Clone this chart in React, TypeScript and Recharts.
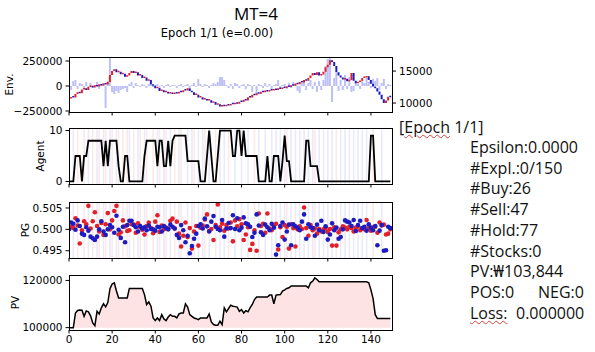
import React from 'react'
import {
  ComposedChart, ScatterChart,
  Bar, Line, Area, Scatter, Cell,
  XAxis, YAxis, ReferenceLine,
} from 'recharts'

// ─── Data ────────────────────────────────────────────────────────

const steps = Array.from({ length: 150 }, (_, i) => i)
const xTicks = [0, 20, 40, 60, 80, 100, 120, 140]

// price (right axis of the Env. panel)
const prices = [
  10700, 10950, 10850, 11400, 11700, 11550, 12100, 12300, 12050, 12500,
  12700, 12450, 12800, 12600, 12950, 12750, 13050, 12900, 13300, 14400,
  15000, 15300, 14800, 14900, 14500, 14600, 14100, 14300, 14700, 15000,
  14700, 14800, 14300, 14400, 13900, 14000, 13500, 13600, 12900, 12700,
  12300, 12400, 11900, 12000, 11700, 11750, 11500, 11600, 11400, 11550,
  11500, 11750, 11700, 12000, 11950, 12300, 11900, 11700, 11250, 11300,
  10850, 10900, 10550, 10600, 10400, 10450, 10050, 10150, 9750, 9800,
  9450, 9600, 9500, 9750, 9600, 9850, 9800, 9950, 9900, 10200,
  10150, 10500, 10400, 10900, 10850, 11300, 11200, 11550, 11450, 11750,
  11700, 11950, 11800, 12050, 11950, 12200, 12050, 12300, 12200, 12450,
  12350, 12600, 12500, 12800, 12700, 13050, 12950, 13300, 13200, 13600,
  13500, 13900, 14300, 14700, 14400, 14800, 14300, 14450, 14900, 15600,
  16000, 16700, 16400, 15800, 14800, 14300, 14000, 13700, 13800, 13400,
  13600, 14700, 13500, 13100, 13300, 13500, 13900, 14000, 14200, 13600,
  13000, 12600, 12300, 11800, 11300, 10600, 10000, 10400, 11000, 10900,
]

// volume change (left axis of the Env. panel)
const volumes = [
  20000, -40000, 50000, 60000, -30000, 30000, 20000, -20000, 40000, -10000,
  30000, -20000, 10000, 40000, -30000, 20000, 30000, -220000, 50000, 280000,
  -60000, -80000, -50000, -70000, -40000, -30000, -20000, -60000, 20000, 40000,
  -20000, 30000, 10000, -10000, 20000, 10000, -20000, 20000, 10000, -10000,
  10000, 20000, -10000, 10000, -20000, 10000, 20000, -10000, 10000, 10000,
  -20000, 10000, 20000, -10000, 10000, 20000, -20000, 10000, 30000, -10000,
  70000, 20000, -10000, 20000, 10000, -20000, 10000, 30000, 20000, 40000,
  90000, 90000, 60000, 10000, -20000, 20000, -30000, 30000, 20000, -20000,
  10000, 20000, -30000, 20000, 10000, -60000, 10000, -90000, 20000, 10000,
  -20000, 30000, -10000, 20000, -30000, 10000, 20000, 60000, -20000, 10000,
  20000, -30000, 30000, -20000, 40000, 20000, -50000, -70000, 30000, 50000,
  -40000, 30000, 60000, -30000, 40000, -60000, 50000, -40000, 60000, 200000,
  270000, 280000, -160000, 80000, 130000, -50000, 60000, -40000, 110000, -30000,
  90000, -60000, -50000, 40000, 20000, -30000, 60000, 30000, 80000, 40000,
  -20000, 70000, 50000, 80000, -40000, 30000, 70000, -30000, 20000, 10000,
]

// agent holdings
const agent = [
  0, 0, 0, 5, 5, 5, 0, 5, 5, 8,
  8, 8, 8, 8, 8, 8, 3, 8, 3, 8,
  8, 8, 8, 3, 0, 0, 5, 5, 0, 0,
  0, 0, 0, 0, 0, 5, 8, 8, 8, 8,
  8, 3, 8, 8, 3, 3, 8, 3, 8, 9,
  9, 9, 9, 9, 9, 4, 4, 4, 4, 4,
  4, 0, 0, 0, 5, 10, 5, 0, 0, 5,
  10, 10, 10, 10, 10, 10, 5, 5, 10, 10,
  5, 10, 5, 5, 5, 5, 5, 5, 0, 0,
  0, 0, 5, 0, 0, 5, 5, 5, 0, 4,
  9, 4, 4, 0, 0, 0, 0, 0, 0, 0,
  8, 8, 3, 3, 3, 3, 0, 0, 0, 0,
  0, 0, 0, 0, 0, 0, 0, 0, 0, 0,
  0, 0, 0, 0, 0, 0, 0, 0, 0, 0,
  9, 9, 0, 0, 0, 0, 0, 0, 0, 0,
]

// policy gradient outputs
const pgRed = [
  0.5004, 0.5006, 0.5003, 0.5026, 0.5009, 0.4967, 0.4998, 0.5019, 0.5012, 0.5055,
  0.5002, 0.5019, 0.5040, 0.5008, 0.4995, 0.5015, 0.4987, 0.5012, 0.5038, 0.5000,
  0.5021, 0.5043, 0.5055, 0.4988, 0.4993, 0.5021, 0.5007, 0.4996, 0.4998, 0.5012,
  0.5011, 0.4992, 0.5014, 0.5005, 0.4999, 0.4988, 0.5008, 0.5016, 0.5003, 0.4991,
  0.5018, 0.5033, 0.4994, 0.5009, 0.5000, 0.5004, 0.5002, 0.5020, 0.5025, 0.5002,
  0.5018, 0.4990, 0.4960, 0.4985, 0.5016, 0.4982, 0.5003, 0.4955, 0.4995, 0.5008,
  0.4962, 0.5004, 0.5009, 0.5023, 0.5035, 0.4996, 0.5001, 0.4975, 0.5010, 0.5058,
  0.5005, 0.5013, 0.4997, 0.5010, 0.5002, 0.5016, 0.4972, 0.5021, 0.5007, 0.5024,
  0.5012, 0.4975, 0.4988, 0.5005, 0.4952, 0.4966, 0.4998, 0.4950, 0.5037, 0.5008,
  0.5013, 0.4992, 0.5037, 0.5002, 0.4998, 0.5008, 0.5013, 0.4953, 0.5005, 0.4982,
  0.5010, 0.5006, 0.4955, 0.5012, 0.5003, 0.4960, 0.5000, 0.5007, 0.5001, 0.5051,
  0.5003, 0.4985, 0.5010, 0.4998, 0.5002, 0.4990, 0.5001, 0.4995, 0.5000, 0.5003,
  0.4994, 0.5001, 0.4962, 0.5005, 0.4962, 0.4993, 0.5000, 0.5007, 0.5004, 0.5000,
  0.5006, 0.5003, 0.4995, 0.5004, 0.5007, 0.4998, 0.5003, 0.5000, 0.5022, 0.5003,
  0.4997, 0.5004, 0.5006, 0.4992, 0.5016, 0.5009, 0.5011, 0.4988, 0.4990, 0.5000,
]

const pgBlue = [
  0.5000, 0.5016, 0.5013, 0.4999, 0.5021, 0.5008, 0.4990, 0.4987, 0.5005, 0.4997,
  0.4983, 0.4979, 0.4975, 0.4983, 0.5000, 0.5019, 0.4995, 0.4987, 0.5000, 0.5010,
  0.5005, 0.4992, 0.5032, 0.4999, 0.4980, 0.5006, 0.4970, 0.5010, 0.5020, 0.5020,
  0.5010, 0.5005, 0.4995, 0.5008, 0.5002, 0.5005, 0.4998, 0.5009, 0.5001, 0.5000,
  0.4997, 0.5006, 0.5005, 0.4995, 0.5008, 0.5003, 0.5000, 0.5011, 0.5006, 0.5002,
  0.4987, 0.4980, 0.5010, 0.4998, 0.4970, 0.4985, 0.4944, 0.4961, 0.4978, 0.4990,
  0.5008, 0.5012, 0.5002, 0.5025, 0.5007, 0.4995, 0.5018, 0.5031, 0.5006, 0.5001,
  0.4998, 0.5022, 0.4983, 0.5002, 0.5015, 0.5003, 0.5033, 0.5001, 0.5026, 0.4998,
  0.5004, 0.5028, 0.5014, 0.5012, 0.5006, 0.4982, 0.4992, 0.5035, 0.5009, 0.4993,
  0.4987, 0.5011, 0.5005, 0.4998, 0.5013, 0.5004, 0.4941, 0.4963, 0.5008, 0.5016,
  0.4976, 0.4995, 0.5011, 0.4963, 0.5012, 0.5007, 0.5004, 0.4998, 0.5018, 0.5035,
  0.4978, 0.5012, 0.5005, 0.5003, 0.4985, 0.5011, 0.4998, 0.5020, 0.4994, 0.5007,
  0.4976, 0.4988, 0.5014, 0.4998, 0.5004, 0.4978, 0.4982, 0.5000, 0.5021, 0.5018,
  0.5016, 0.5008, 0.5022, 0.4996, 0.5010, 0.5020, 0.5003, 0.5006, 0.4997, 0.5012,
  0.5004, 0.4998, 0.5008, 0.4963, 0.4997, 0.5010, 0.4950, 0.4951, 0.5006, 0.5003,
]

// portfolio value
const pv = [
  100000, 100000, 100000, 106200, 107300, 107500, 107400, 104800, 107100, 106700,
  105000, 102000, 100800, 106900, 105800, 108400, 110100, 108800, 110600, 116500,
  118500, 119000, 115500, 112600, 112600, 112600, 112600, 112600, 116600, 116600,
  116600, 116600, 116600, 116600, 116600, 114000, 109800, 110900, 109100, 104100,
  103000, 104100, 103000, 105500, 103700, 103000, 104500, 105500, 104800, 104800,
  104100, 105800, 106200, 106200, 110100, 108700, 105500, 104800, 104100, 103800,
  103400, 104100, 104100, 104100, 104100, 105800, 102400, 101300, 101000, 101000,
  102700, 101300, 108400, 106700, 108100, 109500, 109100, 108900, 108700, 106900,
  107600, 106200, 107200, 106700, 108500, 109800, 111900, 113000, 113000, 113000,
  113000, 113000, 113000, 113800, 113800, 110100, 113800, 113900, 114000, 115500,
  116000, 116600, 116900, 117600, 117600, 117600, 117600, 117600, 117600, 117600,
  117600, 116900, 119000, 119700, 121100, 120400, 119400, 119400, 119400, 119400,
  119400, 119400, 119400, 119400, 119400, 119400, 119400, 119400, 119400, 119400,
  119400, 119400, 119400, 119400, 119400, 119400, 119400, 119400, 119400, 119000,
  116000, 112300, 105500, 103844, 103844, 103844, 103844, 103844, 103844, 103844,
]

// steps where the agent bought / sold
const buySteps = [4, 7, 11, 14, 17, 20, 23, 25, 27, 30, 33, 36, 39, 42, 45, 49, 52, 58, 63, 68, 74, 86, 101, 114, 124, 141]
const sellSteps = [
  2, 9, 13, 16, 19, 22, 28, 32, 35, 41, 44, 47, 51, 55, 57, 60, 62, 65, 70, 72, 77, 80, 83, 88,
  91, 94, 96, 98, 100, 103, 105, 107, 109, 111, 113, 116, 118, 120, 122, 126, 128, 130, 132, 134, 136, 138, 145,
]

const statLines = [
  'Epsilon:0.0000',
  '#Expl.:0/150',
  '#Buy:26',
  '#Sell:47',
  '#Hold:77',
  '#Stocks:0',
  'PV:₩103,844',
]

// ─── Layout / styles ─────────────────────────────────────────────

const W = 595
const PL = 69
const PR = 392.5
const MPL = "'DejaVu Sans', sans-serif"
const UI = "'Open Sans', 'Noto Sans', 'DejaVu Sans', sans-serif"
const tickStyle = { fontSize: 10.5, fill: '#000', fontFamily: MPL }
const UP = '#e3202a'
const DOWN = '#1c1cc0'
const BUY_BG = '#fbeaea'
const SELL_BG = '#eaeafb'

const PANELS = {
  env: { top: 57, bottom: 112 },
  agent: { top: 128, bottom: 184 },
  pg: { top: 202, bottom: 258 },
  pv: { top: 275, bottom: 330 },
}

const minus = (v: number) => (v < 0 ? `−${Math.abs(v)}` : `${v}`)

const envRows = steps.map((i) => {
  const prev = i > 0 ? prices[i - 1] : prices[i]
  return {
    x: i,
    vol: volumes[i],
    seg: [Math.min(prev, prices[i]), Math.max(prev, prices[i])],
    up: prices[i] >= prev,
  }
})
const agentRows = steps.map((i) => ({ x: i, a: agent[i] }))
const pvRows = steps.map((i) => ({ x: i, pv: pv[i] }))
const redPts = steps.map((i) => ({ x: i, y: pgRed[i] }))
const bluePts = steps.map((i) => ({ x: i, y: pgBlue[i] }))

function bottomAxis(labels: boolean) {
  return (
    <XAxis
      dataKey="x"
      type="number"
      domain={[0, 150]}
      ticks={xTicks}
      allowDataOverflow
      height={labels ? 22 : 6}
      tickSize={3.5}
      tickMargin={2}
      axisLine={false}
      tickLine={{ stroke: '#000' }}
      tick={tickStyle}
      tickFormatter={labels ? (v: number) => `${v}` : () => ''}
    />
  )
}

function stripes() {
  return [
    ...buySteps.map((s) => (
      <ReferenceLine key={`b${s}`} x={s} stroke={BUY_BG} strokeWidth={1.6} />
    )),
    ...sellSteps.map((s) => (
      <ReferenceLine key={`s${s}`} x={s} stroke={SELL_BG} strokeWidth={1.6} />
    )),
  ]
}

const dot = (color: string) => (props: any) => (
  <circle cx={props.cx} cy={props.cy} r={2.3} fill={color} />
)

const leftY = {
  width: 60,
  tickSize: 3.5,
  tickMargin: 3,
  axisLine: false,
  tickLine: { stroke: '#000' },
  tick: tickStyle,
  allowDataOverflow: true,
}

// ─── Main Component ──────────────────────────────────────────────

export default function App() {
  const pad = 4
  const h = (p: { top: number; bottom: number }) => p.bottom - p.top

  return (
    <div style={{ position: 'absolute', left: 0, top: 0, width: W, height: 352, background: '#fff', overflow: 'hidden' }}>
      {/* Env. panel: volume change + price segments */}
      <div style={{ position: 'absolute', left: 0, top: PANELS.env.top - pad }}>
        <ComposedChart
          width={W}
          height={pad + h(PANELS.env) + 6}
          data={envRows}
          margin={{ top: pad, bottom: 0, left: PL - 60, right: W - PR - 50 }}
          barGap={-2}
        >
          {bottomAxis(false)}
          <YAxis yAxisId="v" {...leftY} domain={[-260000, 290000]} ticks={[-250000, 0, 250000]} tickFormatter={minus} />
          <YAxis
            yAxisId="p"
            orientation="right"
            {...leftY}
            width={50}
            domain={[8600, 17200]}
            ticks={[10000, 15000]}
          />
          <Bar yAxisId="v" dataKey="vol" fill="#bdc0f5" barSize={2} isAnimationActive={false} />
          <Bar yAxisId="p" dataKey="seg" barSize={2} minPointSize={1.5} isAnimationActive={false}>
            {envRows.map((r) => (
              <Cell key={r.x} fill={r.up ? UP : DOWN} />
            ))}
          </Bar>
        </ComposedChart>
      </div>

      {/* Agent panel */}
      <div style={{ position: 'absolute', left: 0, top: PANELS.agent.top - pad }}>
        <ComposedChart
          width={W}
          height={pad + h(PANELS.agent) + 6}
          data={agentRows}
          margin={{ top: pad, bottom: 0, left: PL - 60, right: W - PR }}
        >
          {bottomAxis(false)}
          <YAxis {...leftY} domain={[-0.5, 10.5]} ticks={[0, 10]} />
          {stripes()}
          <Line dataKey="a" type="linear" stroke="#000" strokeWidth={1.8} dot={false} isAnimationActive={false} />
        </ComposedChart>
      </div>

      {/* PG panel */}
      <div style={{ position: 'absolute', left: 0, top: PANELS.pg.top - pad }}>
        <ScatterChart
          width={W}
          height={pad + h(PANELS.pg) + 6}
          margin={{ top: pad, bottom: 0, left: PL - 60, right: W - PR }}
        >
          {bottomAxis(false)}
          <YAxis
            dataKey="y"
            type="number"
            {...leftY}
            domain={[0.4933, 0.5064]}
            ticks={[0.495, 0.5, 0.505]}
            tickFormatter={(v: number) => v.toFixed(3)}
          />
          {stripes()}
          <Scatter data={redPts} fill={UP} shape={dot(UP)} isAnimationActive={false} />
          <Scatter data={bluePts} fill={DOWN} shape={dot(DOWN)} isAnimationActive={false} />
        </ScatterChart>
      </div>

      {/* PV panel */}
      <div style={{ position: 'absolute', left: 0, top: PANELS.pv.top - pad }}>
        <ComposedChart
          width={W}
          height={pad + h(PANELS.pv) + 22}
          data={pvRows}
          margin={{ top: pad, bottom: 0, left: PL - 60, right: W - PR }}
        >
          {bottomAxis(true)}
          <YAxis {...leftY} domain={[99000, 122300]} ticks={[100000, 120000]} />
          <Area
            dataKey="pv"
            type="linear"
            baseValue={100000}
            stroke="#000"
            strokeWidth={1.5}
            fill="#fde3e3"
            fillOpacity={1}
            isAnimationActive={false}
          />
        </ComposedChart>
      </div>

      {/* frames, titles, axis labels */}
      <svg width={W} height={352} style={{ position: 'absolute', left: 0, top: 0, pointerEvents: 'none' }}>
        {Object.values(PANELS).map((p, i) => (
          <rect
            key={i}
            x={PL}
            y={p.top}
            width={PR - PL}
            height={p.bottom - p.top}
            fill="none"
            stroke="#000"
            strokeWidth={1}
            shapeRendering="crispEdges"
          />
        ))}
        <text x={256} y={13} textAnchor="middle" dominantBaseline="central" fontFamily={UI} fontSize={17}>
          MT=4
        </text>
        <text x={217} y={33} textAnchor="middle" dominantBaseline="central" fontFamily={MPL} fontSize={11.5}>
          Epoch 1/1 (e=0.00)
        </text>
        {[
          { t: 'Env.', x: 9, p: PANELS.env },
          { t: 'Agent', x: 40, p: PANELS.agent },
          { t: 'PG', x: 25, p: PANELS.pg },
          { t: 'PV', x: 15, p: PANELS.pv },
        ].map((l) => {
          const cy = (l.p.top + l.p.bottom) / 2
          return (
            <text
              key={l.t}
              x={l.x}
              y={cy}
              transform={`rotate(-90 ${l.x} ${cy})`}
              textAnchor="middle"
              dominantBaseline="central"
              fontFamily={MPL}
              fontSize={10.5}
            >
              {l.t}
            </text>
          )
        })}
      </svg>

      {/* episode summary */}
      <div style={{ position: 'absolute', left: 399, top: 117, fontFamily: UI, fontSize: 16, lineHeight: '20px', color: '#111' }}>
        [<span style={{ textDecoration: 'underline wavy #d84040', textDecorationThickness: 1 }}>Epoch</span> 1/1]
      </div>
      {statLines.map((s, i) => (
        <div
          key={s}
          style={{ position: 'absolute', left: 470, top: 137 + i * 20.7, fontFamily: UI, fontSize: 16, lineHeight: '20px', color: '#111' }}
        >
          {s}
        </div>
      ))}
      <div style={{ position: 'absolute', left: 470, top: 137 + 7 * 20.7, fontFamily: UI, fontSize: 16, lineHeight: '20px', color: '#111' }}>
        POS:0
      </div>
      <div style={{ position: 'absolute', left: 538, top: 137 + 7 * 20.7, fontFamily: UI, fontSize: 16, lineHeight: '20px', color: '#111' }}>
        NEG:0
      </div>
      <div style={{ position: 'absolute', left: 470, top: 137 + 8 * 20.7, fontFamily: UI, fontSize: 16, lineHeight: '20px', color: '#111' }}>
        <span style={{ textDecoration: 'underline wavy #d84040', textDecorationThickness: 1 }}>Loss:</span>
      </div>
      <div style={{ position: 'absolute', left: 516, top: 137 + 8 * 20.7, fontFamily: UI, fontSize: 16, lineHeight: '20px', color: '#111' }}>
        0.000000
      </div>
    </div>
  )
}
